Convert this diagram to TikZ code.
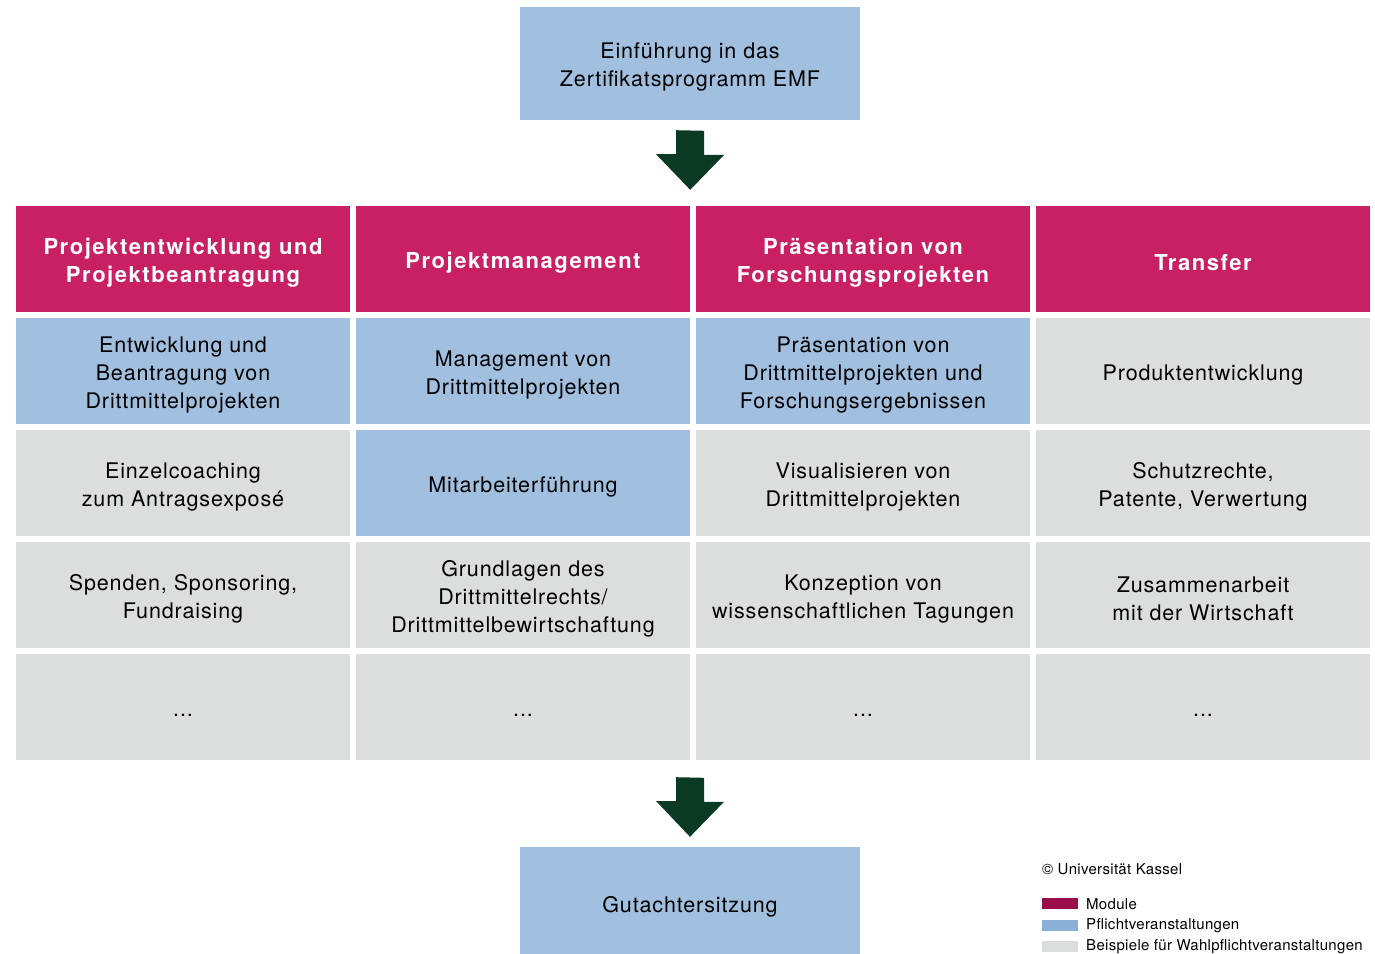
\documentclass[tikz,border=0pt]{standalone}
\usepackage{fontspec}
\setmainfont{TeX Gyre Heros}
\definecolor{modulrot}{HTML}{C91F63}
\definecolor{modulleg}{HTML}{9B0D4A}
\definecolor{pflichtblau}{HTML}{A1BFDF}
\definecolor{pflichtleg}{HTML}{8AB0D8}
\definecolor{wahlgrau}{HTML}{DCDEDE}
\definecolor{pfeilgruen}{HTML}{0B3A24}
\newcommand{\hoch}{\rule{0pt}{23pt}}
\begin{document}
\begin{tikzpicture}[x=1pt,y=-1pt,
    box/.style={minimum width=334pt,minimum height=106pt,inner sep=0pt,align=center,
      font=\fontsize{21.5}{28}\selectfont\addfontfeatures{LetterSpace=4}},
    modul/.style={box,fill=modulrot,text=white,
      font=\fontsize{22}{28}\selectfont\bfseries\addfontfeatures{LetterSpace=7}},
    pflicht/.style={box,fill=pflichtblau},
    wahl/.style={box,fill=wahlgrau},
    legtext/.style={anchor=west,inner sep=0pt,font=\fontsize{15}{16}\selectfont\addfontfeatures{LetterSpace=2}}]
  \useasboundingbox (0,0) rectangle (1375,953);
  % Einstieg
  \node[pflicht,minimum width=340pt,minimum height=113pt] (start) at (690,63.5) {\hoch Einführung in das\\Zertifikatsprogramm EMF};
  % Module
  \node[modul] (m1) at (183,259) {\hoch Projektentwicklung und\\Projektbeantragung};
  \node[modul] (m2) at (523,259) {\hoch Projektmanagement};
  \node[modul] (m3) at (863,259) {\hoch Präsentation von\\Forschungsprojekten};
  \node[modul] (m4) at (1203,259) {\hoch Transfer};
  % Zeile 1
  \node[pflicht] (a1) at (183,371) {\hoch Entwicklung und\\Beantragung von\\Drittmittelprojekten};
  \node[pflicht] (a2) at (523,371) {\hoch Management von\\Drittmittelprojekten};
  \node[pflicht] (a3) at (863,371) {\hoch Präsentation von\\Drittmittelprojekten und\\Forschungsergebnissen};
  \node[wahl] (a4) at (1203,371) {\hoch Produktentwicklung};
  % Zeile 2
  \node[wahl] (b1) at (183,483) {\hoch Einzelcoaching\\zum Antragsexposé};
  \node[pflicht] (b2) at (523,483) {\hoch Mitarbeiterführung};
  \node[wahl] (b3) at (863,483) {\hoch Visualisieren von\\Drittmittelprojekten};
  \node[wahl] (b4) at (1203,483) {\hoch Schutzrechte,\\Patente, Verwertung};
  % Zeile 3
  \node[wahl] (c1) at (183,595) {\hoch Spenden, Sponsoring,\\Fundraising};
  \node[wahl] (c2) at (523,595) {\hoch Grundlagen des\\Drittmittelrechts/\\Drittmittelbewirtschaftung};
  \node[wahl] (c3) at (863,595) {\hoch Konzeption von\\wissenschaftlichen Tagungen};
  \node[wahl] (c4) at (1203,595) {\hoch Zusammenarbeit\\mit der Wirtschaft};
  % Zeile 4
  \foreach \i/\x in {1/183,2/523,3/863,4/1203}
    \node[wahl] (d\i) at (\x,707) {\hoch...\vphantom{Ag}};
  % Abschluss
  \node[pflicht,minimum width=340pt,minimum height=112pt] (ende) at (690,903) {\hoch Gutachtersitzung};
  % Pfeile
  \fill[pfeilgruen] ([xshift=-14pt,yshift=-10pt]start.south) -- ++(0,24) -- ++(-20,0)
    -- ([yshift=16pt]m2.north east) -- ++(34,-35) -- ++(-20,0) -- ++(0,-24) -- cycle;
  \fill[pfeilgruen] ([xshift=-14pt,yshift=-17pt]d2.south east) -- ++(0,24) -- ++(-20,0)
    -- ([yshift=10pt]ende.north) -- ++(34,-35) -- ++(-20,0) -- ++(0,-24) -- cycle;
  % Legende
  \node[legtext] (copy) at (1042,869) {© Universität Kassel};
  \fill[modulleg] (1042,898) rectangle (1078,909);
  \fill[pflichtleg] (1042,920) rectangle (1078,931);
  \fill[wahlgrau] (1042,941) rectangle (1078,952);
  \node[legtext] (lm) at (1086,904) {Module};
  \node[legtext] (lp) at (1086,926) {Pflichtveranstaltungen};
  \node[legtext] (lw) at (1086,947) {Beispiele für Wahlpflichtveranstaltungen};
\end{tikzpicture}
\end{document}
